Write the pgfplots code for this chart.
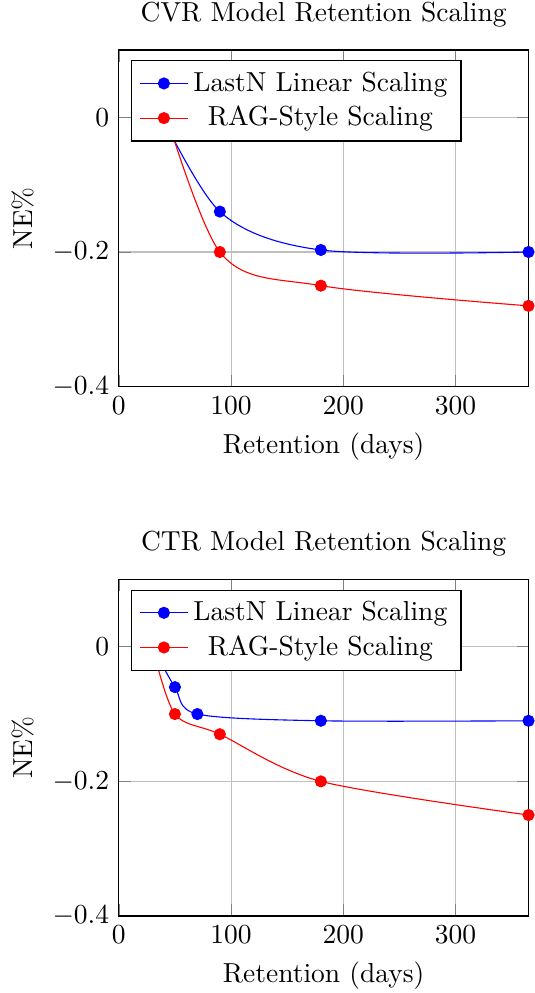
\documentclass[border=0pt]{standalone}
\usepackage{pgfplots}
\pgfplotsset{compat=1.18}
\begin{document}
\begin{tikzpicture}
\pgfplotsset{
    retention/.style={
        scale only axis,
        width=149pt, height=122.4pt,
        xmin=0, xmax=365,
        ymin=-0.4, ymax=0.1,
        xtick={0,100,200,300},
        ytick={-0.4,-0.2,0},
        grid=major,
        xlabel={Retention (days)},
        ylabel={NE\%},
        title style={yshift=-1.2pt},
        legend pos=north west,
        legend cell align=center,
    },
}
% CVR
\begin{axis}[retention, name=top, title={CVR Model Retention Scaling}]
\addplot[blue, mark=*, smooth] coordinates {(30,0.03) (90,-0.14) (180,-0.197) (365,-0.2)};
\addlegendentry{LastN Linear Scaling}
\addplot[red, mark=*, smooth] coordinates {(30,0.07) (90,-0.2) (180,-0.25) (365,-0.28)};
\addlegendentry{RAG-Style Scaling}
\end{axis}
% CTR
\begin{axis}[retention, name=bot, at={(0,-192.5pt)}, title={CTR Model Retention Scaling}]
\addplot[blue, mark=*, smooth] coordinates {(30,0) (50,-0.06) (70,-0.1) (180,-0.11) (365,-0.11)};
\addlegendentry{LastN Linear Scaling}
\addplot[red, mark=*, smooth] coordinates {(30,0) (50,-0.1) (90,-0.13) (180,-0.2) (365,-0.25)};
\addlegendentry{RAG-Style Scaling}
\end{axis}
\pgfresetboundingbox
\path[use as bounding box] ([shift={(-43.2pt,18.2pt)}]top.north west) rectangle ([shift={(2.1pt,-28pt)}]bot.south east);
\end{tikzpicture}
\end{document}
